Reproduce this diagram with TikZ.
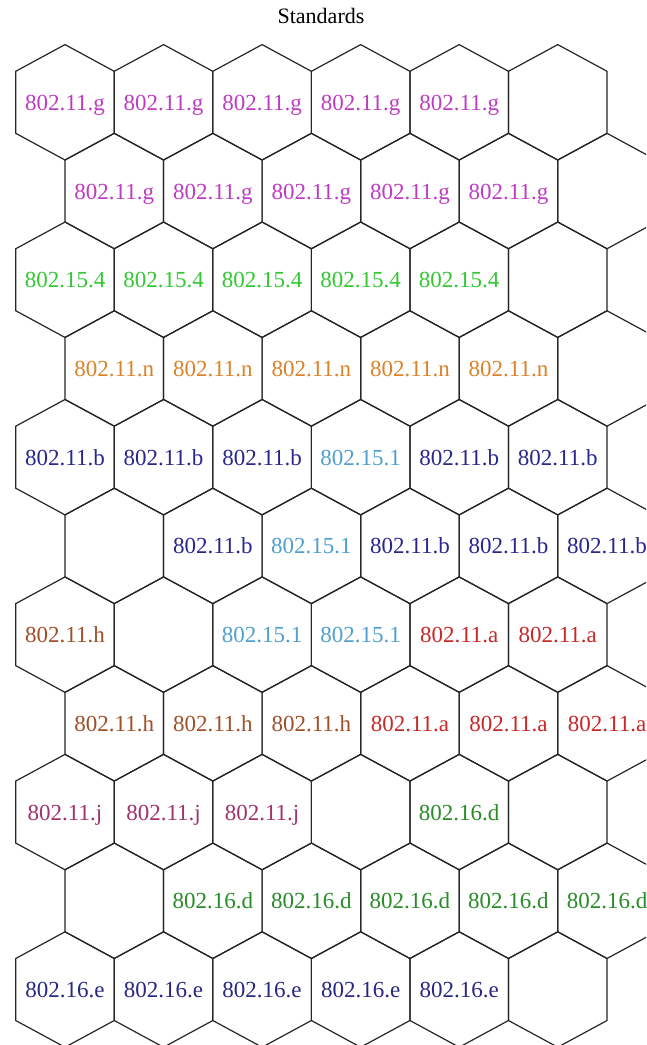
\documentclass[tikz,border=0pt]{standalone}
\usepackage{fontspec}
\setmainfont{Liberation Serif}
\definecolor{cG}{RGB}{190,60,195}
\definecolor{cFiv}{RGB}{50,200,50}
\definecolor{cN}{RGB}{220,130,40}
\definecolor{cB}{RGB}{40,40,140}
\definecolor{cOne}{RGB}{80,160,205}
\definecolor{cH}{RGB}{160,80,40}
\definecolor{cA}{RGB}{200,40,40}
\definecolor{cJ}{RGB}{160,50,110}
\definecolor{cD}{RGB}{40,140,40}
\definecolor{cE}{RGB}{40,40,130}
\tikzset{
  hexline/.style={draw=black!85, line width=1.2pt, line join=miter},
  lab/.style={font=\fontsize{23}{25}\selectfont, inner sep=0pt, anchor=base},
  titlelab/.style={font=\fontsize{22}{24}\selectfont, inner sep=0pt, anchor=base, text=black}
}
\newcommand\hexlab[4]{%
  \pgfmathsetmacro\lx{65+49.28*(1-mod(#1,2))+(#2-1)*98.55}%
  \pgfmathsetmacro\ly{102.3+(#1-1)*88.72+8}%
  \node[lab, text=#3] (l-#1-#2) at (\lx,\ly) {#4};%
}
\begin{document}
\begin{tikzpicture}[x=1pt,y=-1pt]
\useasboundingbox (0,0) rectangle (646,1045);
\fill[white] (0,0) rectangle (646,1045);
\node[titlelab] (title) at (321,23) {Standards};
\begin{scope}
\clip (0,0) rectangle (646,1045);
\foreach \r in {1,...,11}{
  \foreach \k in {1,...,6}{
    \pgfmathsetmacro\cx{65+49.28*(1-mod(\r,2))+(\k-1)*98.55}
    \pgfmathsetmacro\cy{102.3+(\r-1)*88.72}
    \coordinate (h-\r-\k) at (\cx,\cy);
    \draw[hexline] (h-\r-\k) ++(-49.28,-31) -- ++(0,62) -- ++(49.28,26.7)
      -- ++(49.28,-26.7) -- ++(0,-62) -- ++(-49.28,-26.7) -- cycle;
  }
}
\end{scope}
% rows 1-4
\foreach \k in {1,...,5}{\hexlab{1}{\k}{cG}{802.11.g}}
\foreach \k in {1,...,5}{\hexlab{2}{\k}{cG}{802.11.g}}
\foreach \k in {1,...,5}{\hexlab{3}{\k}{cFiv}{802.15.4}}
\foreach \k in {1,...,5}{\hexlab{4}{\k}{cN}{802.11.n}}
% row 5
\hexlab{5}{1}{cB}{802.11.b}
\hexlab{5}{2}{cB}{802.11.b}
\hexlab{5}{3}{cB}{802.11.b}
\hexlab{5}{4}{cOne}{802.15.1}
\hexlab{5}{5}{cB}{802.11.b}
\hexlab{5}{6}{cB}{802.11.b}
% row 6
\hexlab{6}{2}{cB}{802.11.b}
\hexlab{6}{3}{cOne}{802.15.1}
\hexlab{6}{4}{cB}{802.11.b}
\hexlab{6}{5}{cB}{802.11.b}
\hexlab{6}{6}{cB}{802.11.b}
% row 7
\hexlab{7}{1}{cH}{802.11.h}
\hexlab{7}{3}{cOne}{802.15.1}
\hexlab{7}{4}{cOne}{802.15.1}
\hexlab{7}{5}{cA}{802.11.a}
\hexlab{7}{6}{cA}{802.11.a}
% row 8
\hexlab{8}{1}{cH}{802.11.h}
\hexlab{8}{2}{cH}{802.11.h}
\hexlab{8}{3}{cH}{802.11.h}
\hexlab{8}{4}{cA}{802.11.a}
\hexlab{8}{5}{cA}{802.11.a}
\hexlab{8}{6}{cA}{802.11.a}
% row 9
\hexlab{9}{1}{cJ}{802.11.j}
\hexlab{9}{2}{cJ}{802.11.j}
\hexlab{9}{3}{cJ}{802.11.j}
\hexlab{9}{5}{cD}{802.16.d}
% row 10
\foreach \k in {2,...,6}{\hexlab{10}{\k}{cD}{802.16.d}}
% row 11
\foreach \k in {1,...,5}{\hexlab{11}{\k}{cE}{802.16.e}}
\end{tikzpicture}
\end{document}
